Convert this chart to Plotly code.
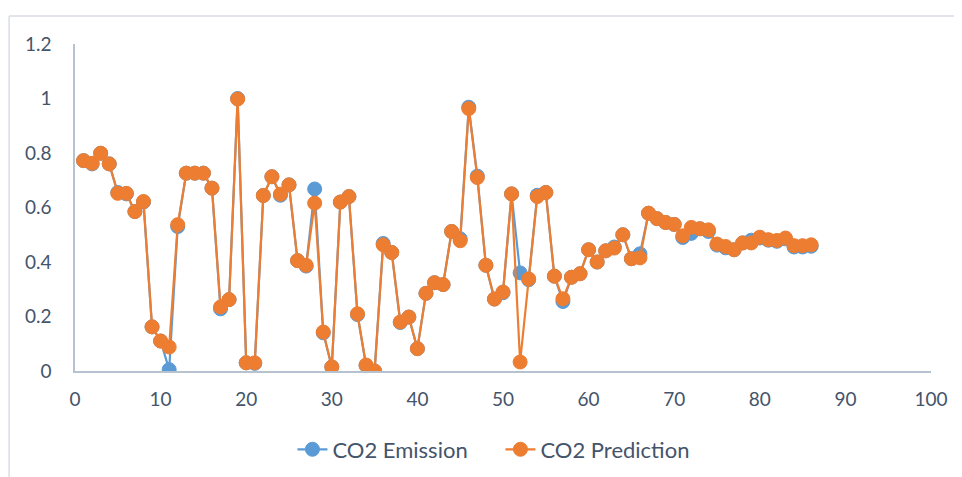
import plotly.graph_objects as go

x_vals = list(range(1, 87))

co2_prediction = [
    0.772, 0.762, 0.799, 0.760, 0.652, 0.652, 0.585, 0.622, 0.162, 0.110,
    0.088, 0.537, 0.726, 0.726, 0.726, 0.671, 0.235, 0.262, 0.998, 0.030,
    0.030, 0.644, 0.713, 0.649, 0.683, 0.405, 0.388, 0.616, 0.143, 0.015,
    0.620, 0.640, 0.210, 0.022, 0.000, 0.463, 0.435, 0.180, 0.198, 0.082,
    0.285, 0.324, 0.317, 0.512, 0.478, 0.963, 0.710, 0.388, 0.264, 0.290,
    0.650, 0.033, 0.338, 0.640, 0.655, 0.348, 0.265, 0.344, 0.357, 0.445,
    0.400, 0.441, 0.451, 0.500, 0.412, 0.415, 0.579, 0.559, 0.545, 0.538,
    0.496, 0.527, 0.522, 0.518, 0.466, 0.457, 0.445, 0.470, 0.470, 0.491,
    0.482, 0.479, 0.488, 0.460, 0.460, 0.463,
]

co2_emission = [
    0.772, 0.760, 0.799, 0.760, 0.655, 0.650, 0.585, 0.620, 0.162, 0.110,
    0.005, 0.530, 0.726, 0.726, 0.726, 0.671, 0.228, 0.262, 1.000, 0.030,
    0.028, 0.644, 0.713, 0.645, 0.683, 0.405, 0.385, 0.668, 0.140, 0.015,
    0.620, 0.640, 0.207, 0.020, 0.000, 0.468, 0.435, 0.178, 0.198, 0.082,
    0.285, 0.324, 0.317, 0.512, 0.485, 0.968, 0.715, 0.388, 0.264, 0.287,
    0.650, 0.360, 0.335, 0.645, 0.655, 0.348, 0.255, 0.344, 0.357, 0.445,
    0.400, 0.441, 0.455, 0.500, 0.412, 0.430, 0.579, 0.559, 0.545, 0.538,
    0.490, 0.505, 0.522, 0.512, 0.462, 0.452, 0.445, 0.470, 0.480, 0.488,
    0.480, 0.476, 0.485, 0.455, 0.455, 0.458,
]

x_ticks = [0, 10, 20, 30, 40, 50, 60, 70, 80, 90, 100]
y_ticks = [0, 0.2, 0.4, 0.6, 0.8, 1, 1.2]
y_tick_text = ["0", "0.2", "0.4", "0.6", "0.8", "1", "1.2"]

BLUE = "#5B9BD5"
ORANGE = "#ED7D31"
TEXT = "#44546A"
AXIS = "#B7C2CF"
BORDER = "#D9DEE6"
FONT = "Lato"

fig = go.Figure()
fig.add_trace(go.Scatter(
    x=x_vals, y=co2_emission, name="CO2 Emission", mode="lines+markers",
    line=dict(color=BLUE, width=2.2),
    marker=dict(color=BLUE, size=14, line=dict(color=BLUE, width=1)),
))
fig.add_trace(go.Scatter(
    x=x_vals, y=co2_prediction, name="CO2 Prediction", mode="lines+markers",
    line=dict(color=ORANGE, width=2.2),
    marker=dict(color=ORANGE, size=14, line=dict(color=ORANGE, width=1)),
))

fig.update_layout(
    width=962, height=477,
    margin=dict(l=67, r=39, t=36, b=114),
    paper_bgcolor="white", plot_bgcolor="white",
    font=dict(family=FONT, size=19, color=TEXT),
    showlegend=True,
    legend=dict(orientation="h", x=0.497, xanchor="center", y=-0.24, yanchor="middle",
                font=dict(family=FONT, size=22, color=TEXT),
                entrywidth=163, entrywidthmode="pixels",
                bgcolor="rgba(0,0,0,0)"),
    xaxis=dict(range=[0, 100], tickvals=x_ticks, ticktext=[str(v) for v in x_ticks],
               showgrid=False, zeroline=False, showline=True, linecolor=AXIS, linewidth=1.5,
               ticks="", ticklabelstandoff=10, tickfont=dict(family=FONT, size=19, color=TEXT),
               fixedrange=True),
    yaxis=dict(range=[0, 1.2], tickvals=y_ticks, ticktext=y_tick_text,
               showgrid=False, zeroline=False, showline=True, linecolor=AXIS, linewidth=1.5,
               ticks="", ticklabelstandoff=18, tickfont=dict(family=FONT, size=19, color=TEXT),
               fixedrange=True),
    shapes=[
        dict(type="line", xref="paper", yref="paper", x0=-0.077, x1=1.06, y0=1.0856, y1=1.0856,
             line=dict(color=BORDER, width=1.5)),
        dict(type="line", xref="paper", yref="paper", x0=-0.077, x1=-0.077, y0=-0.4, y1=1.0856,
             line=dict(color=BORDER, width=1.5)),
    ],
)

fig.write_html("out.html")
